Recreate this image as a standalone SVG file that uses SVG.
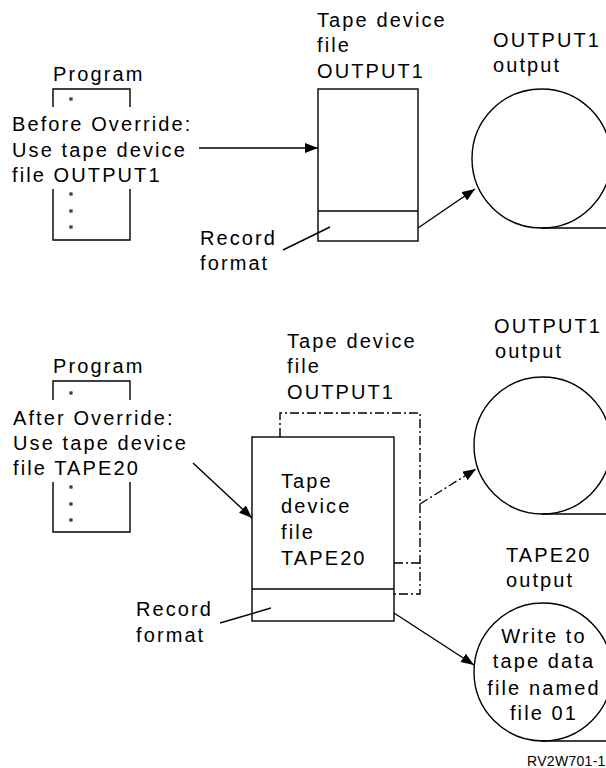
<svg xmlns="http://www.w3.org/2000/svg" width="606" height="768" viewBox="0 0 606 768">
<defs>
<style>
text{font-family:"Liberation Sans",Arial,sans-serif;font-size:20px;letter-spacing:2.1px;fill:#000}
.ln{fill:none;stroke:#000;stroke-width:1.4}
.dd{fill:none;stroke:#000;stroke-width:1.4;stroke-dasharray:9 3 2 3}
.dot{fill:none;stroke:#000;stroke-width:1}
.id{font-size:14px;letter-spacing:0.3px}
</style>
<marker id="ah" markerUnits="userSpaceOnUse" markerWidth="14" markerHeight="12" refX="13" refY="5" orient="auto">
<path d="M0,0 L13,5 L0,10 z" fill="#000"/>
</marker>
</defs>
<rect width="606" height="768" fill="#fff"/>

<g id="program-top">
<text x="53" y="81">Program</text>
<path class="ln" d="M53,107 V89 H130 V107"/>
<path class="ln" d="M53,189 V240 H130 V189"/>
<rect class="dot" x="70" y="98" width="2" height="2"/>
<rect class="dot" x="70" y="193" width="2" height="2"/>
<rect class="dot" x="70" y="210" width="2" height="2"/>
<rect class="dot" x="70" y="226" width="2" height="2"/>
<text x="12" y="131">Before Override:</text>
<text x="12" y="157">Use tape device</text>
<text x="12" y="182">file OUTPUT1</text>
</g>

<g id="file-output1-top">
<text x="317" y="27">Tape device</text>
<text x="317" y="52">file</text>
<text x="317" y="78">OUTPUT1</text>
<rect class="ln" x="318" y="89" width="100" height="152"/>
<line class="ln" x1="318" y1="211" x2="418" y2="211"/>
</g>

<g id="record-top">
<text x="200" y="245">Record</text>
<text x="200" y="270">format</text>
</g>

<g id="output1-top">
<text x="493" y="47">OUTPUT1</text>
<text x="493" y="72">output</text>
<circle class="ln" cx="541.5" cy="158.5" r="69.5"/>
<line class="ln" x1="541" y1="228" x2="606" y2="228"/>
</g>

<g id="program-bottom">
<text x="53" y="373">Program</text>
<path class="ln" d="M53,400 V381 H130 V400"/>
<path class="ln" d="M53,482 V532 H130 V482"/>
<rect class="dot" x="70" y="392" width="2" height="2"/>
<rect class="dot" x="70" y="486" width="2" height="2"/>
<rect class="dot" x="70" y="503" width="2" height="2"/>
<rect class="dot" x="70" y="519" width="2" height="2"/>
<text x="13" y="425">After Override:</text>
<text x="13" y="450">Use tape device</text>
<text x="13" y="475">file TAPE20</text>
</g>

<g id="file-output1-bottom">
<text x="287" y="348">Tape device</text>
<text x="287" y="373">file</text>
<text x="287" y="399">OUTPUT1</text>
<path class="dd" d="M280,437 V413 H420 V594 H394"/>
<line class="dd" x1="394" y1="563" x2="420" y2="563"/>
</g>

<g id="file-tape20">
<rect class="ln" x="252" y="437" width="142" height="184" fill="#fff"/>
<line class="ln" x1="252" y1="589" x2="394" y2="589"/>
<text x="281" y="488">Tape</text>
<text x="281" y="513">device</text>
<text x="281" y="539">file</text>
<text x="281" y="565">TAPE20</text>
</g>

<g id="record-bottom">
<text x="136" y="616">Record</text>
<text x="136" y="642">format</text>
</g>

<g id="output1-bottom">
<text x="494" y="333">OUTPUT1</text>
<text x="495" y="358">output</text>
<circle class="ln" cx="542.5" cy="445.5" r="68.5"/>
<line class="ln" x1="542" y1="514" x2="606" y2="514"/>
</g>

<g id="tape20-output">
<text x="506" y="562">TAPE20</text>
<text x="506" y="587">output</text>
<circle class="ln" cx="543" cy="672" r="69"/>
<line class="ln" x1="541" y1="741" x2="606" y2="741"/>
<text x="544" y="643" text-anchor="middle">Write to</text>
<text x="544" y="668" text-anchor="middle">tape data</text>
<text x="544" y="695" text-anchor="middle">file named</text>
<text x="544" y="720" text-anchor="middle">file 01</text>
</g>

<g id="connectors">
<line class="ln" x1="199" y1="148" x2="318" y2="148" marker-end="url(#ah)"/>
<line class="ln" x1="418" y1="228" x2="475" y2="189" marker-end="url(#ah)"/>
<line class="ln" x1="283" y1="250" x2="330" y2="227"/>
<line class="ln" x1="193" y1="463" x2="252" y2="518" marker-end="url(#ah)"/>
<line class="dd" x1="420" y1="504" x2="476" y2="469" marker-end="url(#ah)"/>
<line class="ln" x1="394" y1="613" x2="474" y2="665" marker-end="url(#ah)"/>
<line class="ln" x1="220" y1="623" x2="271" y2="608"/>
</g>

<text class="id" x="527" y="766">RV2W701-1</text>
</svg>
